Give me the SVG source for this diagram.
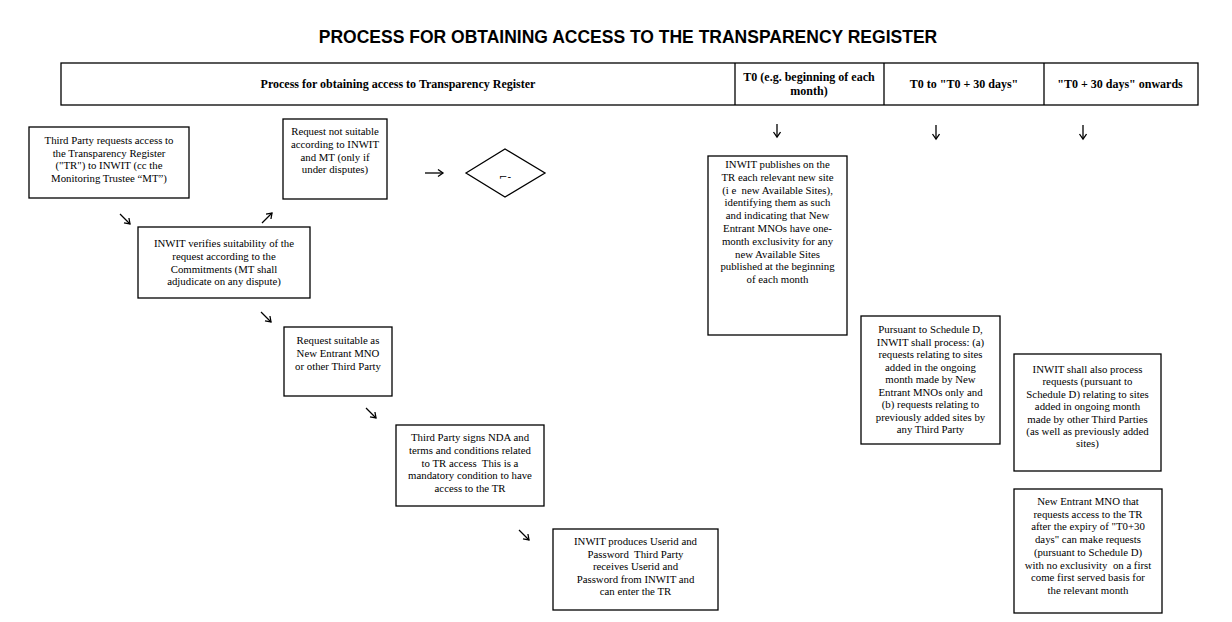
<svg xmlns="http://www.w3.org/2000/svg" width="1232" height="622" viewBox="0 0 1232 622">
<style>
.bx{fill:#fff;stroke:#000;stroke-width:1.3}
.t{font-family:"Liberation Serif","Times New Roman",serif;font-size:10.8px;fill:#000;text-anchor:middle;white-space:pre}
.h{font-family:"Liberation Serif","Times New Roman",serif;font-size:12px;font-weight:bold;fill:#000;text-anchor:middle}
.title{font-family:"Liberation Sans",Arial,sans-serif;font-size:17.5px;font-weight:bold;fill:#000;text-anchor:middle}
.c{fill:none;stroke:#000;stroke-width:1.3}
</style>
<defs>
<marker id="ah" markerUnits="userSpaceOnUse" markerWidth="10" markerHeight="10" refX="6" refY="4" orient="auto">
<path d="M1,0.5 L6,4 L1,7.5" fill="none" stroke="#000" stroke-width="1.3"/>
</marker>
</defs>
<rect width="1232" height="622" fill="#fff"/>
<text class="title" x="628" y="43">PROCESS FOR OBTAINING ACCESS TO THE TRANSPARENCY REGISTER</text>
<g id="header">
<rect class="bx" x="61" y="63" width="1137" height="42"/>
<line class="c" x1="735" y1="63" x2="735" y2="105"/>
<line class="c" x1="884" y1="63" x2="884" y2="105"/>
<line class="c" x1="1044" y1="63" x2="1044" y2="105"/>
<text class="h" x="398" y="88">Process for obtaining access to Transparency Register</text>
<text class="h" x="809" y="81">T0 (e.g. beginning of each</text>
<text class="h" x="809" y="95">month)</text>
<text class="h" x="964" y="88">T0 to "T0 + 30 days"</text>
<text class="h" x="1120" y="88">"T0 + 30 days" onwards</text>
</g>
<g id="n1">
<rect class="bx" x="29" y="127" width="160" height="71"/>
<text class="t" y="144"><tspan x="109">Third Party requests access to</tspan><tspan x="109" dy="12.5">the Transparency Register</tspan><tspan x="109" dy="12.5">("TR") to INWIT (cc the</tspan><tspan x="109" dy="12.5">Monitoring Trustee “MT”)</tspan></text>
</g>
<g id="n2">
<rect class="bx" x="138" y="227" width="172" height="71"/>
<text class="t" y="247"><tspan x="224">INWIT verifies suitability of the</tspan><tspan x="224" dy="12.8">request according to the</tspan><tspan x="224" dy="12.8">Commitments (MT shall</tspan><tspan x="224" dy="12.8">adjudicate on any dispute)</tspan></text>
</g>
<g id="n3">
<rect class="bx" x="283" y="119" width="104" height="80"/>
<text class="t" y="135"><tspan x="335">Request not suitable</tspan><tspan x="335" dy="12.8">according to INWIT</tspan><tspan x="335" dy="12.8">and MT (only if</tspan><tspan x="335" dy="12.8">under disputes)</tspan></text>
</g>
<g id="n3d">
<polygon class="bx" points="466,173 505,149 545,173 505,197"/>
<text x="505" y="180" style="font-family:'DejaVu Sans',sans-serif;font-size:10px;text-anchor:middle">⌐-</text>
</g>
<g id="n4">
<rect class="bx" x="284" y="327" width="108" height="69"/>
<text class="t" y="344"><tspan x="338">Request suitable as</tspan><tspan x="338" dy="12.8">New Entrant MNO</tspan><tspan x="338" dy="12.8">or other Third Party</tspan></text>
</g>
<g id="n5">
<rect class="bx" x="396" y="425" width="148" height="81"/>
<text class="t" y="441"><tspan x="470">Third Party signs NDA and</tspan><tspan x="470" dy="12.8">terms and conditions related</tspan><tspan x="470" dy="12.8">to TR access  This is a</tspan><tspan x="470" dy="12.8">mandatory condition to have</tspan><tspan x="470" dy="12.8">access to the TR</tspan></text>
</g>
<g id="n6">
<rect class="bx" x="553" y="529" width="165" height="81"/>
<text class="t" y="545"><tspan x="635.5">INWIT produces Userid and</tspan><tspan x="635.5" dy="12.5">Password  Third Party</tspan><tspan x="635.5" dy="12.5">receives Userid and</tspan><tspan x="635.5" dy="12.5">Password from INWIT and</tspan><tspan x="635.5" dy="12.5">can enter the TR</tspan></text>
</g>
<g id="n7">
<rect class="bx" x="708" y="156" width="139" height="179"/>
<text class="t" y="168"><tspan x="777.5">INWIT publishes on the</tspan><tspan x="777.5" dy="12.8">TR each relevant new site</tspan><tspan x="777.5" dy="12.8">(i e  new Available Sites),</tspan><tspan x="777.5" dy="12.8">identifying them as such</tspan><tspan x="777.5" dy="12.8">and indicating that New</tspan><tspan x="777.5" dy="12.8">Entrant MNOs have one-</tspan><tspan x="777.5" dy="12.8">month exclusivity for any</tspan><tspan x="777.5" dy="12.8">new Available Sites</tspan><tspan x="777.5" dy="12.8">published at the beginning</tspan><tspan x="777.5" dy="12.8">of each month</tspan></text>
</g>
<g id="n8">
<rect class="bx" x="861" y="316" width="139" height="128"/>
<text class="t" y="333"><tspan x="930.5">Pursuant to Schedule D,</tspan><tspan x="930.5" dy="12.5">INWIT shall process: (a)</tspan><tspan x="930.5" dy="12.5">requests relating to sites</tspan><tspan x="930.5" dy="12.5">added in the ongoing</tspan><tspan x="930.5" dy="12.5">month made by New</tspan><tspan x="930.5" dy="12.5">Entrant MNOs only and</tspan><tspan x="930.5" dy="12.5">(b) requests relating to</tspan><tspan x="930.5" dy="12.5">previously added sites by</tspan><tspan x="930.5" dy="12.5">any Third Party</tspan></text>
</g>
<g id="n9">
<rect class="bx" x="1014" y="354" width="147" height="117"/>
<text class="t" y="373"><tspan x="1087.5">INWIT shall also process</tspan><tspan x="1087.5" dy="12.4">requests (pursuant to</tspan><tspan x="1087.5" dy="12.4">Schedule D) relating to sites</tspan><tspan x="1087.5" dy="12.4">added in ongoing month</tspan><tspan x="1087.5" dy="12.4">made by other Third Parties</tspan><tspan x="1087.5" dy="12.4">(as well as previously added</tspan><tspan x="1087.5" dy="12.4">sites)</tspan></text>
</g>
<g id="n10">
<rect class="bx" x="1014" y="489" width="148" height="124"/>
<text class="t" y="505"><tspan x="1088">New Entrant MNO that</tspan><tspan x="1088" dy="12.7">requests access to the TR</tspan><tspan x="1088" dy="12.7">after the expiry of "T0+30</tspan><tspan x="1088" dy="12.7">days" can make requests</tspan><tspan x="1088" dy="12.7">(pursuant to Schedule D)</tspan><tspan x="1088" dy="12.7">with no exclusivity  on a first</tspan><tspan x="1088" dy="12.7">come first served basis for</tspan><tspan x="1088" dy="12.7">the relevant month</tspan></text>
</g>
<g id="connectors">
<line class="c" x1="120" y1="214" x2="130" y2="224" marker-end="url(#ah)"/>
<line class="c" x1="262" y1="223" x2="272" y2="213" marker-end="url(#ah)"/>
<line class="c" x1="261" y1="312" x2="271" y2="322" marker-end="url(#ah)"/>
<line class="c" x1="366" y1="408" x2="376" y2="418" marker-end="url(#ah)"/>
<line class="c" x1="519" y1="530" x2="529" y2="540" marker-end="url(#ah)"/>
<line class="c" x1="425" y1="173" x2="443" y2="173" marker-end="url(#ah)"/>
<line class="c" x1="777" y1="124" x2="777" y2="137" marker-end="url(#ah)"/>
<line class="c" x1="936" y1="125" x2="936" y2="139" marker-end="url(#ah)"/>
<line class="c" x1="1083" y1="125" x2="1083" y2="139" marker-end="url(#ah)"/>
</g>
</svg>
